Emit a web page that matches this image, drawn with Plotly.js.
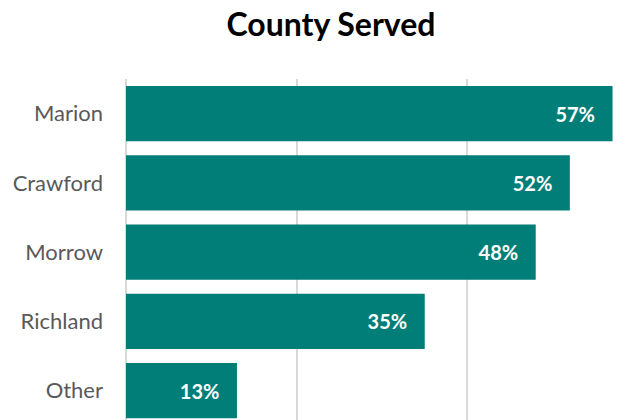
<!DOCTYPE html>
<html>
<head>
<meta charset="utf-8">
<script src="https://cdn.plot.ly/plotly-3.0.1.min.js"></script>
<style>html,body{margin:0;padding:0;background:#fff;}#chart{width:639px;height:420px;}</style>
</head>
<body>
<div id="chart"></div>
<script>
// Data (bottom to top)
const counties = ["Other", "Richland", "Morrow", "Crawford", "Marion"];
const percents = [13, 35, 48, 52, 57];
const xTicks = [0, 20, 40];

const trace = {
  type: "bar",
  orientation: "h",
  y: counties,
  x: percents,
  marker: { color: "#027E78" },
  text: percents.map(v => v + "%\u00a0\u00a0\u00a0"),
  textposition: "inside",
  insidetextanchor: "end",
  textangle: 0,
  textfont: { family: "Lato", size: 20, color: "#ffffff", weight: "bold" },
  hoverinfo: "none",
  cliponaxis: false
};

const layout = {
  width: 639,
  height: 420,
  margin: { l: 126, r: 0, t: 79, b: 0, pad: 0 },
  paper_bgcolor: "#ffffff",
  plot_bgcolor: "#ffffff",
  showlegend: false,
  bargap: 0.2,
  title: {
    text: "<b>County Served</b>",
    font: { family: "Lato", size: 32, color: "#000000" },
    xref: "container", x: 331 / 639, xanchor: "center",
    yref: "container", y: 1 - 25 / 420, yanchor: "middle"
  },
  xaxis: {
    range: [0, 60.1],
    tickvals: xTicks,
    showticklabels: false,
    showgrid: true,
    gridcolor: "#d9d9d9",
    gridwidth: 2,
    zeroline: true,
    zerolinecolor: "#d9d9d9",
    zerolinewidth: 2,
    showline: false,
    fixedrange: true
  },
  yaxis: {
    type: "category",
    categoryorder: "array",
    categoryarray: counties,
    range: [-0.424, 4.5],
    showgrid: false,
    zeroline: false,
    showline: false,
    ticks: "",
    ticklabelstandoff: 22,
    tickfont: { family: "Lato", size: 22, color: "#595959" },
    fixedrange: true
  }
};

Plotly.newPlot("chart", [trace], layout, { displayModeBar: false, staticPlot: true });
</script>
</body>
</html>
